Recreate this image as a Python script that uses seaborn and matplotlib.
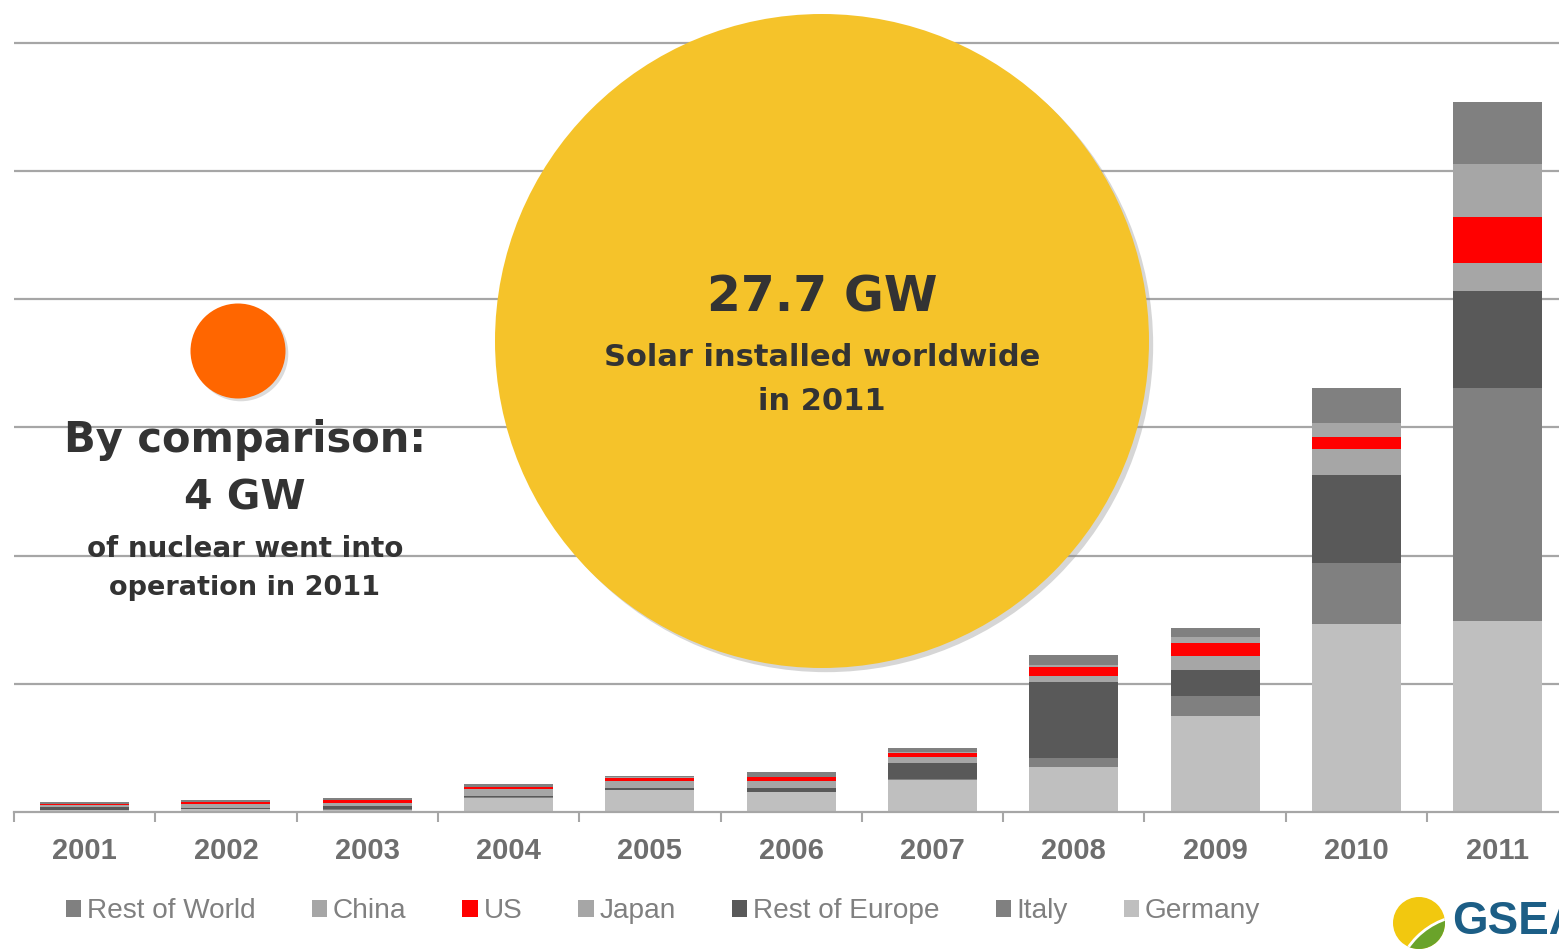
import numpy as np
import pandas as pd
import seaborn as sns
import matplotlib.pyplot as plt
from matplotlib.patches import Patch, Circle
from matplotlib import patheffects as pe

# ── data (GW installed per year) ─────────────────────────
years = ['2001', '2002', '2003', '2004', '2005', '2006',
         '2007', '2008', '2009', '2010', '2011']
germany        = [0.07, 0.10, 0.09, 0.56, 0.86, 0.78, 1.25, 1.75, 3.74, 7.35, 7.47]
italy          = [0.01, 0.01, 0.01, 0.01, 0.01, 0.01, 0.05, 0.35, 0.78, 2.37, 9.07]
rest_of_europe = [0.11, 0.03, 0.13, 0.05, 0.06, 0.15, 0.62, 2.96, 1.01, 3.42, 3.77]
japan          = [0.10, 0.18, 0.13, 0.27, 0.29, 0.27, 0.23, 0.23, 0.54, 1.01, 1.09]
us             = [0.04, 0.06, 0.10, 0.09, 0.12, 0.15, 0.16, 0.35, 0.54, 0.47, 1.83]
china          = [0.00, 0.01, 0.00, 0.01, 0.01, 0.01, 0.04, 0.08, 0.23, 0.54, 2.06]
rest_of_world  = [0.06, 0.06, 0.08, 0.10, 0.05, 0.18, 0.16, 0.39, 0.35, 1.40, 2.40]

# bottom -> top stacking order
series = ['Germany', 'Italy', 'Rest of Europe', 'Japan', 'US', 'China', 'Rest of World']
colors = ['#bfbfbf', '#808080', '#595959', '#a6a6a6', '#ff0000', '#a6a6a6', '#808080']

df = pd.DataFrame({'year': years, 'Germany': germany, 'Italy': italy,
                   'Rest of Europe': rest_of_europe, 'Japan': japan, 'US': us,
                   'China': china, 'Rest of World': rest_of_world})

W, H = 1559, 949
sns.set_theme(style='white')
fig = plt.figure(figsize=(W / 100, H / 100), dpi=100)

# axes placed in pixel terms: baseline at y=812, 30 GW at y=43
base_y, top_y = 812, 43
px_per_gw = (base_y - top_y) / 30
ymax = 30.2
ax_top = base_y - ymax * px_per_gw
left = 14
band = 141.3
ax = fig.add_axes([left / W, (H - base_y) / H, (W - left) / W, (base_y - ax_top) / H])

# ── stacked bars: draw cumulative totals from the top down ─
cum = df[series].cumsum(axis=1)
for name, col in reversed(list(zip(series, colors))):
    sns.barplot(x=df['year'], y=cum[name], color=col, width=0.63,
                linewidth=0, saturation=1, ax=ax, zorder=2)

ax.set_yticks([5, 10, 15, 20, 25, 30])
ax.set_yticklabels([])
ax.grid(axis='y', color='#a6a6a6', linewidth=1.6, zorder=0)
ax.set_axisbelow(True)
ax.set_xlabel('')
ax.set_ylabel('')
for s in ['top', 'right', 'left']:
    ax.spines[s].set_visible(False)
ax.spines['bottom'].set_color('#a6a6a6')
ax.spines['bottom'].set_linewidth(1.6)

ax.set_xticks(range(len(years)))
ax.set_xticklabels(years, fontsize=21, fontweight='bold', color='#6e6e6e',
                   family=['Liberation Sans Narrow', 'Liberation Sans'])
ax.tick_params(axis='x', which='major', length=0, pad=18)
ax.set_xticks(np.arange(-0.5, len(years)), minor=True)
ax.tick_params(axis='x', which='minor', length=7, width=1.5, color='#a6a6a6',
               bottom=True)
# limits last, so the tick calls above cannot widen them
ax.set_xlim(-0.5, -0.5 + (W - left) / band)
ax.set_ylim(0, ymax)

# ── legend (top of stack first) ───────────────────────────
handles = [Patch(facecolor=c, edgecolor='none', label=n)
           for n, c in reversed(list(zip(series, colors)))]
fig.legend(handles=handles, loc='center left', ncol=7, frameon=False,
           bbox_to_anchor=(66 / W, 1 - 911 / H),
           prop={'family': ['Liberation Sans Narrow', 'Liberation Sans'], 'size': 20.2},
           labelcolor='#808080', handlelength=0.55, handleheight=0.55,
           handletextpad=0.2, columnspacing=2.0, borderpad=0, borderaxespad=0)

# ── overlay (pixel coordinates) ───────────────────────────
ov = fig.add_axes([0, 0, 1, 1], zorder=5)
ov.set_xlim(0, W)
ov.set_ylim(H, 0)
ov.axis('off')
ov.patch.set_alpha(0)

sun = Circle((822, 341), 327, facecolor='#f5c32a', edgecolor='none')
sun.set_path_effects([pe.SimplePatchShadow(offset=(3, -3), shadow_rgbFace='#8a8a8a', alpha=0.35),
                      pe.Normal()])
ov.add_patch(sun)
nuke = Circle((238, 351), 47.5, facecolor='#ff6600', edgecolor='none')
nuke.set_path_effects([pe.SimplePatchShadow(offset=(2, -2), shadow_rgbFace='#8a8a8a', alpha=0.3),
                       pe.Normal()])
ov.add_patch(nuke)

txt = '#333333'
ov.text(822, 298, '27.7 GW', ha='center', va='center', fontsize=35,
        fontweight='bold', color=txt, family='DejaVu Sans')
ov.text(822, 358, 'Solar installed worldwide', ha='center', va='center',
        fontsize=22, fontweight='bold', color=txt, family='DejaVu Sans')
ov.text(822, 402, 'in 2011', ha='center', va='center',
        fontsize=22, fontweight='bold', color=txt, family='DejaVu Sans')

ov.text(245, 440, 'By comparison:', ha='center', va='center', fontsize=30,
        fontweight='bold', color=txt, family='DejaVu Sans')
ov.text(245, 498, '4 GW', ha='center', va='center', fontsize=29.5,
        fontweight='bold', color=txt, family='DejaVu Sans')
ov.text(245, 549, 'of nuclear went into', ha='center', va='center', fontsize=20,
        fontweight='bold', color=txt, family='DejaVu Sans')
ov.text(245, 588, 'operation in 2011', ha='center', va='center', fontsize=19.5,
        fontweight='bold', color=txt, family='DejaVu Sans')

# GSEA logo, cut off at the right edge as in the original
logo = Circle((1419, 923), 26, facecolor='#f2c80f', edgecolor='none')
ov.add_patch(logo)
field = Circle((1470, 990), 75, facecolor='#6aa32a', edgecolor='white', linewidth=2)
ov.add_patch(field)
field.set_clip_path(logo)
water = Circle((1470, 992), 48, facecolor='#1c5e86', edgecolor='white', linewidth=2)
ov.add_patch(water)
water.set_clip_path(logo)
ov.text(1452, 922, 'GSEA', ha='left', va='center', fontsize=33, fontweight='bold',
        color='#1c5e86', family=['Liberation Sans Narrow', 'Liberation Sans'])

fig.savefig('out.png', dpi=100)
